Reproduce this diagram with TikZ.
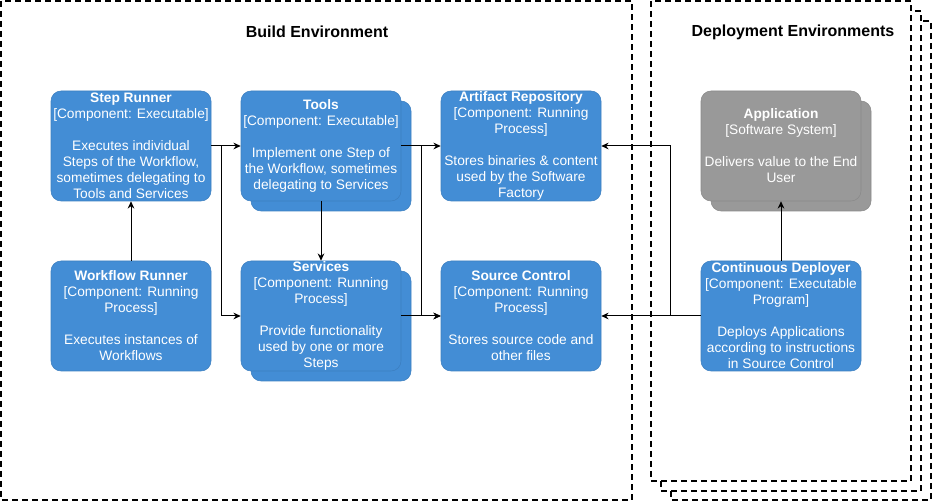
\documentclass[tikz,border=0pt]{standalone}
\usepackage{fontspec}
\setmainfont{Liberation Sans}
\usetikzlibrary{arrows.meta}
\definecolor{c4blue}{HTML}{438DD5}
\definecolor{c4line}{HTML}{3C7FC0}
\definecolor{c4gray}{HTML}{999999}
\definecolor{c4grayline}{HTML}{8A8A8A}

\begin{document}
\begin{tikzpicture}[x=0.75pt, y=-0.75pt,
    comp/.style={draw=c4line, fill=c4blue, rounded corners=7.5pt, minimum width=120pt,
      minimum height=82.5pt, inner sep=0pt, text=white, align=center,
      font=\fontsize{10.3}{12}\selectfont},
    sys/.style={comp, draw=c4grayline, fill=c4gray},
    boundary/.style={draw, line width=1.5pt, dash pattern=on 4.5pt off 3pt},
    envlabel/.style={font=\bfseries\fontsize{12}{14}\selectfont},
    arr/.style={-{Stealth[length=5.5pt,width=5pt]}, line width=0.75pt}]

    \useasboundingbox (0,0) rectangle (933,502);

    % environments
    \draw[boundary] (1,1) rectangle (632,500);
    \draw[boundary, fill=white] (671,21) rectangle (931,500);
    \draw[boundary, fill=white] (661,11) rectangle (921,491);
    \draw[boundary, fill=white] (651,1) rectangle (911,481);
    \node[envlabel] (buildlabel) at (317,32) {Build Environment};
    \node[envlabel] (deploylabel) at (793,32) {Deployment Environments};

    % build components
    \node[comp] (steprunner) at (131,146) {\textbf{Step Runner}\\{[Component: Executable]}\\[12pt]Executes individual\\Steps of the Workflow,\\sometimes delegating to\\Tools and Services};
    \node[comp] (toolsback) at (331,156) {};
    \node[comp] (tools) at (321,146) {\textbf{Tools}\\{[Component: Executable]}\\[12pt]Implement one Step of\\the Workflow, sometimes\\delegating to Services};
    \node[comp] (artifact) at (521,146) {\textbf{Artifact Repository}\\{[Component: Running}\\Process]\\[12pt]Stores binaries \& content\\used by the Software\\Factory};
    \node[comp] (workflow) at (131,316) {\textbf{Workflow Runner}\\{[Component: Running}\\Process]\\[12pt]Executes instances of\\Workflows};
    \node[comp] (servicesback) at (331,326) {};
    \node[comp] (services) at (321,316) {\textbf{Services}\\{[Component: Running}\\Process]\\[12pt]Provide functionality\\used by one or more\\Steps};
    \node[comp] (source) at (521,316) {\textbf{Source Control}\\{[Component: Running}\\Process]\\[12pt]Stores source code and\\other files};

    % deployment
    \node[sys] (applicationback) at (791,156) {};
    \node[sys] (application) at (781,146) {\textbf{Application}\\{[Software System]}\\[12pt]Delivers value to the End\\User};
    \node[comp] (deployer) at (781,316) {\textbf{Continuous Deployer}\\{[Component: Executable}\\Program]\\[12pt]Deploys Applications\\according to instructions\\in Source Control};

    % connectors
    \draw[arr] (workflow) -- (steprunner);
    \draw[arr] (steprunner) -- (tools);
    \draw[arr] (steprunner.east) -- ++(10,0) |- (services.west);
    \draw[arr] (tools) -- (services);
    \draw[arr] (tools) -- (artifact);
    \draw[arr] (tools.east) -- ++(20,0) |- (source.west);
    \draw[arr] (services) -- (source);
    \draw[arr] (deployer) -- (source);
    \draw[arr] (deployer.west) -- ++(-30,0) |- (artifact.east);
    \draw[arr] (deployer) -- (application);
\end{tikzpicture}
\end{document}
